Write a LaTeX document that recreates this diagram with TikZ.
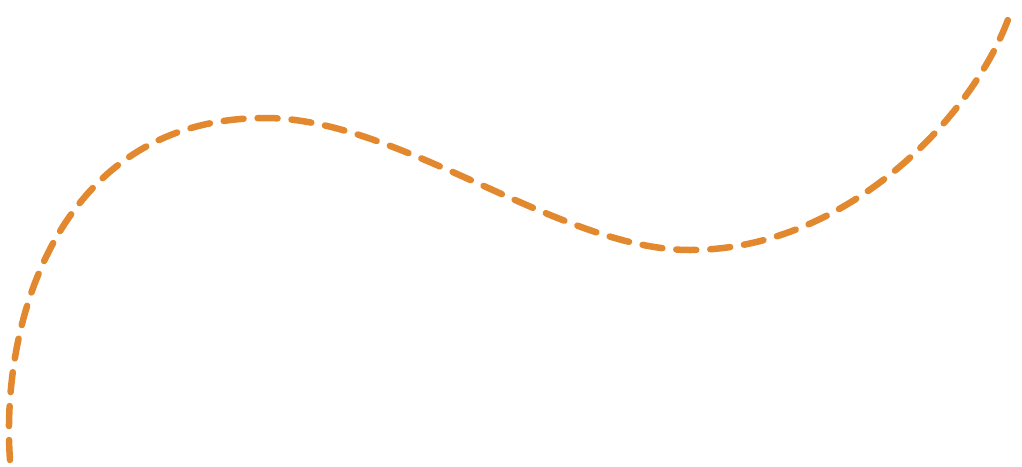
\documentclass[tikz,border=0pt]{standalone}
\definecolor{curveor}{HTML}{E2882F}
\begin{document}
\begin{tikzpicture}[x=1pt,y=-1pt]
\useasboundingbox (0,0) rectangle (1022,466);
\draw[curveor,line width=6.5pt,dash pattern=on 20pt off 14pt,line cap=round]
 (10,460) .. controls (0,320) and (60,118) .. (265,118)
 .. controls (400,118) and (560,250) .. (690,250)
 .. controls (850,250) and (980,110) .. (1012,8);
\end{tikzpicture}
\end{document}
